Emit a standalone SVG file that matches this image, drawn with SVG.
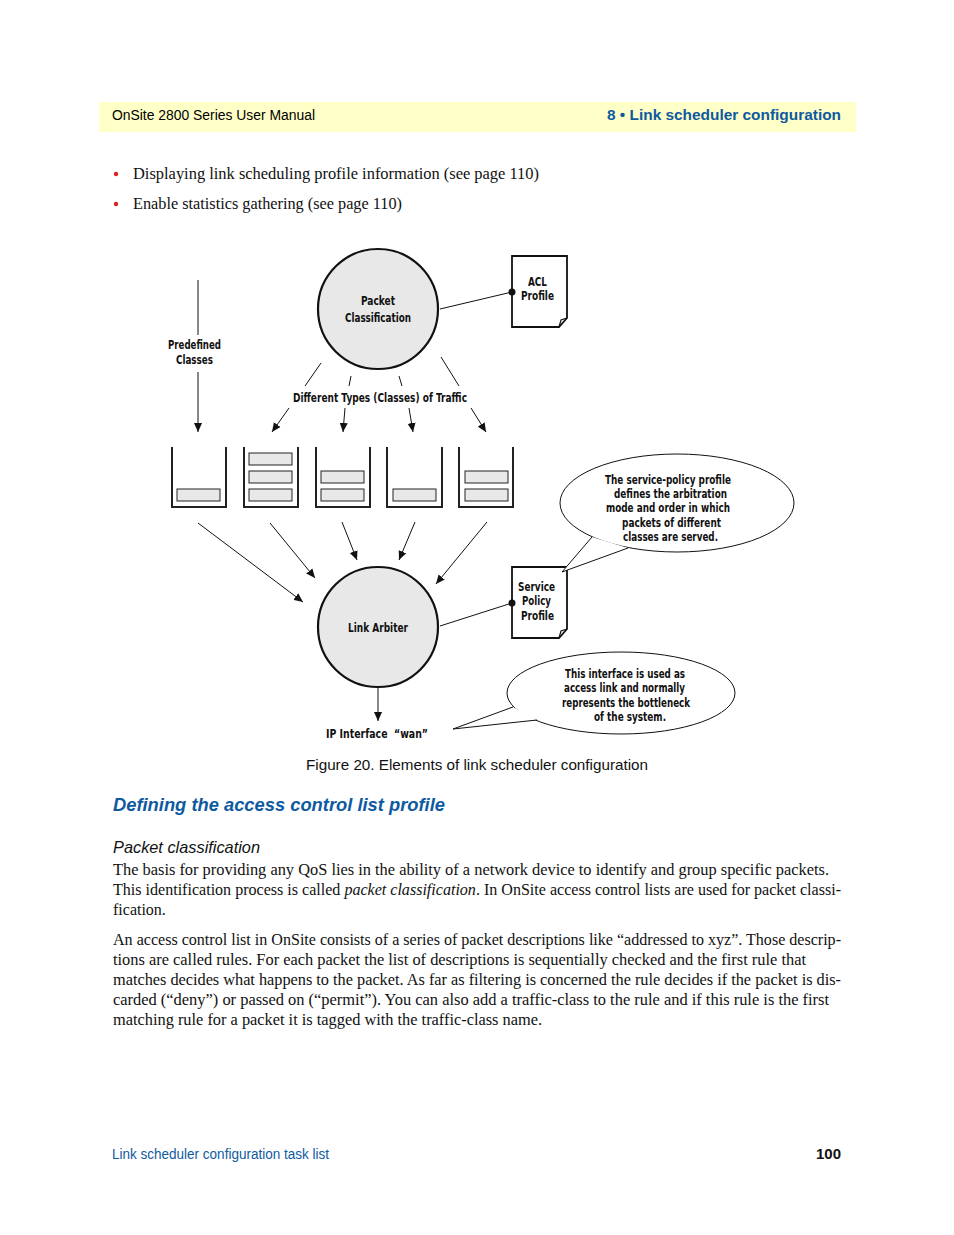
<svg xmlns="http://www.w3.org/2000/svg" width="954" height="1235" viewBox="0 0 954 1235">
<defs>
<marker id="ah" viewBox="0 0 10 10" refX="10" refY="5" markerWidth="9" markerHeight="9" markerUnits="userSpaceOnUse" orient="auto"><path d="M0,0.5 L10,5 L0,9.5 Z" fill="#111"/></marker>
<style>
.hdr{font-family:"Liberation Sans",Arial,sans-serif;font-size:14px;}
.hdrb{font-family:"Liberation Sans",Arial,sans-serif;font-size:15px;font-weight:bold;fill:#0E5AA0;}
.ser{font-family:"Liberation Serif","Times New Roman",serif;font-size:16px;fill:#111;}
.lbl{font-family:"DejaVu Sans","Liberation Sans",sans-serif;font-weight:bold;font-size:13px;fill:#111;text-anchor:middle;}
.ln{stroke:#111;stroke-width:1;fill:none;}
.arr{stroke:#111;stroke-width:1;fill:none;marker-end:url(#ah);}
.circ{fill:#E8E8E8;stroke:#111;stroke-width:2.2;}
.doc{fill:#fff;stroke:#111;stroke-width:1.8;}
.bkt{fill:none;stroke:#222;stroke-width:2;}
.pkt{fill:#E8E8E8;stroke:#222;stroke-width:1;}
.bub{fill:#fff;stroke:#111;stroke-width:1;}
</style>
</defs>
<rect width="954" height="1235" fill="#fff"/>
<g id="header">
<rect x="99" y="102" width="757" height="30" fill="#FFFFC8"/>
<text class="hdr" x="112" y="120" textLength="203" lengthAdjust="spacingAndGlyphs">OnSite 2800 Series User Manual</text>
<text class="hdrb" x="841" y="120" text-anchor="end" textLength="234" lengthAdjust="spacingAndGlyphs">8 • Link scheduler configuration</text>
</g>
<g id="bullets">
<circle cx="116" cy="174" r="2.2" fill="#E02020"/>
<text class="ser" x="133" y="179" textLength="406" lengthAdjust="spacingAndGlyphs">Displaying link scheduling profile information (see page 110)</text>
<circle cx="116" cy="204" r="2.2" fill="#E02020"/>
<text class="ser" x="133" y="209" textLength="269" lengthAdjust="spacingAndGlyphs">Enable statistics gathering (see page 110)</text>
</g>
<g id="connectors">
<line class="ln" x1="440" y1="309" x2="512" y2="292"/>
<line class="ln" x1="440" y1="626" x2="512" y2="603"/>
<line class="ln" x1="198" y1="280" x2="198" y2="335"/>
<line class="arr" x1="198" y1="372" x2="198" y2="432"/>
<line class="ln" x1="321" y1="363" x2="305" y2="386"/>
<line class="ln" x1="351" y1="376" x2="349" y2="386"/>
<line class="ln" x1="399" y1="376" x2="402" y2="386"/>
<line class="ln" x1="441" y1="357" x2="459" y2="386"/>
<line class="arr" x1="289" y1="408" x2="272" y2="432"/>
<line class="arr" x1="345" y1="408" x2="343" y2="432"/>
<line class="arr" x1="409" y1="408" x2="413" y2="432"/>
<line class="arr" x1="471" y1="408" x2="486" y2="432"/>
<line class="arr" x1="198" y1="523" x2="303" y2="602"/>
<line class="arr" x1="270" y1="523" x2="315" y2="578"/>
<line class="arr" x1="342" y1="522" x2="357" y2="560"/>
<line class="arr" x1="415" y1="522" x2="399" y2="560"/>
<line class="arr" x1="487" y1="522" x2="436" y2="584"/>
<line class="arr" x1="378" y1="687" x2="378" y2="721"/>
</g>
<g id="packet-classification">
<circle class="circ" cx="378" cy="309" r="60"/>
<text class="lbl" x="378" y="305" textLength="34" lengthAdjust="spacingAndGlyphs">Packet</text>
<text class="lbl" x="378" y="322" textLength="66" lengthAdjust="spacingAndGlyphs">Classification</text>
</g>
<g id="acl-profile">
<path class="doc" d="M512,256 H567 V318 L559,327 H512 Z"/>
<path d="M567,318 L561,320 L559,327" fill="none" stroke="#111" stroke-width="1.2"/>
<circle cx="512" cy="292" r="3.5" fill="#111"/>
<text class="lbl" x="537.5" y="286" textLength="19" lengthAdjust="spacingAndGlyphs">ACL</text>
<text class="lbl" x="537.5" y="300" textLength="33" lengthAdjust="spacingAndGlyphs">Profile</text>
</g>
<g id="predefined-classes">
<text class="lbl" x="194.5" y="349" textLength="53" lengthAdjust="spacingAndGlyphs">Predefined</text>
<text class="lbl" x="194.5" y="364" textLength="37" lengthAdjust="spacingAndGlyphs">Classes</text>
</g>
<g id="traffic-label">
<text class="lbl" x="380" y="402" textLength="174" lengthAdjust="spacingAndGlyphs">Different Types (Classes) of Traffic</text>
</g>
<g id="queue1">
<path class="bkt" d="M172,447 V507 H226 V447"/>
<rect class="pkt" x="177" y="489" width="43" height="12"/>
</g>
<g id="queue2">
<path class="bkt" d="M244,447 V507 H298 V447"/>
<rect class="pkt" x="249" y="453" width="43" height="12"/>
<rect class="pkt" x="249" y="471" width="43" height="12"/>
<rect class="pkt" x="249" y="489" width="43" height="12"/>
</g>
<g id="queue3">
<path class="bkt" d="M316,447 V507 H370 V447"/>
<rect class="pkt" x="321" y="471" width="43" height="12"/>
<rect class="pkt" x="321" y="489" width="43" height="12"/>
</g>
<g id="queue4">
<path class="bkt" d="M387,447 V507 H442 V447"/>
<rect class="pkt" x="393" y="489" width="43" height="12"/>
</g>
<g id="queue5">
<path class="bkt" d="M459,447 V507 H513 V447"/>
<rect class="pkt" x="465" y="471" width="43" height="12"/>
<rect class="pkt" x="465" y="489" width="43" height="12"/>
</g>
<g id="link-arbiter">
<circle class="circ" cx="378" cy="627" r="60"/>
<text class="lbl" x="378" y="632" textLength="60" lengthAdjust="spacingAndGlyphs">Link Arbiter</text>
</g>
<g id="service-policy-profile">
<path class="doc" d="M512,567 H567 V629 L559,638 H512 Z"/>
<path d="M567,629 L561,631 L559,638" fill="none" stroke="#111" stroke-width="1.2"/>
<circle cx="512" cy="603" r="3.5" fill="#111"/>
<text class="lbl" x="536.5" y="591" textLength="37" lengthAdjust="spacingAndGlyphs">Service</text>
<text class="lbl" x="536.5" y="605" textLength="29" lengthAdjust="spacingAndGlyphs">Policy</text>
<text class="lbl" x="537.5" y="620" textLength="33" lengthAdjust="spacingAndGlyphs">Profile</text>
</g>
<g id="callout-service-policy">
<ellipse class="bub" cx="677" cy="503" rx="117" ry="49"/>
<path d="M592,537 L562,572 L628,548 Z" fill="#fff"/>
<polyline class="ln" points="592,537 562,572 628,548"/>
<text class="lbl" x="668" y="484" textLength="126" lengthAdjust="spacingAndGlyphs">The service-policy profile</text>
<text class="lbl" x="670.5" y="498" textLength="113" lengthAdjust="spacingAndGlyphs">defines the arbitration</text>
<text class="lbl" x="668" y="512" textLength="124" lengthAdjust="spacingAndGlyphs">mode and order in which</text>
<text class="lbl" x="671.5" y="527" textLength="99" lengthAdjust="spacingAndGlyphs">packets of different</text>
<text class="lbl" x="670.5" y="541" textLength="95" lengthAdjust="spacingAndGlyphs">classes are served.</text>
</g>
<g id="ip-interface">
<text class="lbl" x="377" y="738" textLength="102" lengthAdjust="spacingAndGlyphs">IP Interface&#160;&#160;“wan”</text>
</g>
<g id="callout-interface">
<ellipse class="bub" cx="621" cy="693" rx="114" ry="41"/>
<path d="M513,707 L453,729 L537,720 Z" fill="#fff"/>
<polyline class="ln" points="513,707 453,729 537,720"/>
<text class="lbl" x="625" y="678" textLength="120" lengthAdjust="spacingAndGlyphs">This interface is used as</text>
<text class="lbl" x="624.5" y="692" textLength="121" lengthAdjust="spacingAndGlyphs">access link and normally</text>
<text class="lbl" x="626" y="707" textLength="128" lengthAdjust="spacingAndGlyphs">represents the bottleneck</text>
<text class="lbl" x="630" y="721" textLength="72" lengthAdjust="spacingAndGlyphs">of the system.</text>
</g>
<g id="caption">
<text x="477" y="770" text-anchor="middle" font-family="Liberation Sans,Arial,sans-serif" font-size="15" fill="#111" textLength="342" lengthAdjust="spacingAndGlyphs">Figure 20. Elements of link scheduler configuration</text>
</g>
<g id="body">
<text x="113" y="811" font-family="Liberation Sans,Arial,sans-serif" font-size="18" font-weight="bold" font-style="italic" fill="#0E5AA0" textLength="332" lengthAdjust="spacingAndGlyphs">Defining the access control list profile</text>
<text x="113" y="853" font-family="Liberation Sans,Arial,sans-serif" font-size="17" font-style="italic" fill="#111" textLength="147" lengthAdjust="spacingAndGlyphs">Packet classification</text>
<text class="ser" x="113" y="875" textLength="716" lengthAdjust="spacingAndGlyphs">The basis for providing any QoS lies in the ability of a network device to identify and group specific packets.</text>
<text class="ser" x="113" y="895" textLength="728" lengthAdjust="spacingAndGlyphs">This identification process is called <tspan font-style="italic">packet classification</tspan>. In OnSite access control lists are used for packet classi-</text>
<text class="ser" x="113" y="915">fication.</text>
<text class="ser" x="113" y="945" textLength="728" lengthAdjust="spacingAndGlyphs">An access control list in OnSite consists of a series of packet descriptions like “addressed to xyz”. Those descrip-</text>
<text class="ser" x="113" y="965" textLength="693" lengthAdjust="spacingAndGlyphs">tions are called rules. For each packet the list of descriptions is sequentially checked and the first rule that</text>
<text class="ser" x="113" y="985" textLength="728" lengthAdjust="spacingAndGlyphs">matches decides what happens to the packet. As far as filtering is concerned the rule decides if the packet is dis-</text>
<text class="ser" x="113" y="1005" textLength="716" lengthAdjust="spacingAndGlyphs">carded (“deny”) or passed on (“permit”). You can also add a traffic-class to the rule and if this rule is the first</text>
<text class="ser" x="113" y="1025" textLength="429" lengthAdjust="spacingAndGlyphs">matching rule for a packet it is tagged with the traffic-class name.</text>
</g>
<g id="footer">
<text x="112" y="1159" font-family="Liberation Sans,Arial,sans-serif" font-size="14" fill="#0E5AA0" textLength="217" lengthAdjust="spacingAndGlyphs">Link scheduler configuration task list</text>
<text x="841" y="1159" text-anchor="end" font-family="Liberation Sans,Arial,sans-serif" font-size="15" font-weight="bold" fill="#111">100</text>
</g>
</svg>
